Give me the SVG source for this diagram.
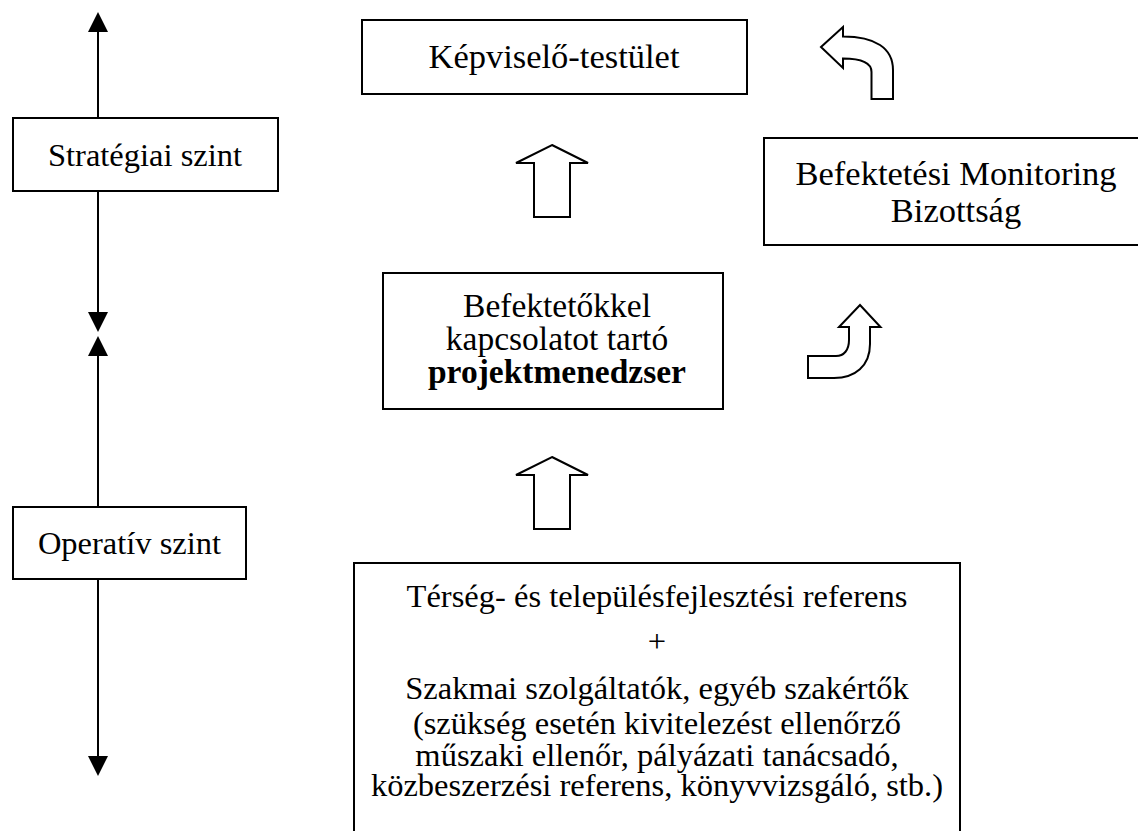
<svg xmlns="http://www.w3.org/2000/svg" width="1138" height="831" viewBox="0 0 1138 831">
<defs>
<marker id="ah" viewBox="0 0 20 20" refX="18" refY="10" markerWidth="20" markerHeight="20" markerUnits="userSpaceOnUse" orient="auto"><path d="M0,0 L20,10 L0,20 Z" fill="#000"/></marker>
<style>
.box{fill:#fff;stroke:#000;stroke-width:2}
.t{font-family:"Liberation Serif","Times New Roman",serif;fill:#000;text-anchor:middle}
.axis{stroke:#000;stroke-width:2;fill:none;marker-end:url(#ah)}
.blk{fill:#fff;stroke:#000;stroke-width:2;stroke-linejoin:miter}
</style>
</defs>
<rect width="1138" height="831" fill="#fff"/>
<g id="connectors">
<line class="axis" x1="98" y1="118" x2="98" y2="14"/>
<line class="axis" x1="98" y1="191" x2="98" y2="330"/>
<line class="axis" x1="98" y1="507" x2="98" y2="338"/>
<line class="axis" x1="98" y1="579" x2="98" y2="774"/>
<polygon class="blk" points="552,145 588,163 570,163 570,217 534,217 534,163 516,163"/>
<polygon class="blk" points="552,457 588,475 570,475 570,529 534,529 534,475 516,475"/>
<path class="blk" d="M821,47 L843,27 L843,36.5 C875,36.5 893,48 893,70 L893,99 L871.5,99 L871.5,72 C871.5,63 862,58.5 843,58.5 L843,68 Z"/>
<path class="blk" d="M860,305 L880.5,327 L870,327 L870,344 C870,366 855,378 834,378 L808,378 L808,356 L836,356 C844,356 849,350 849,340 L849,327 L839,327 Z"/>
</g>
<g id="strategiai">
<rect class="box" x="13" y="118" width="265" height="73"/>
<text class="t" x="145" y="166" font-size="32.5">Stratégiai szint</text>
</g>
<g id="operativ">
<rect class="box" x="13" y="507" width="233" height="72"/>
<text class="t" x="129.5" y="553.5" font-size="32.5">Operatív szint</text>
</g>
<g id="kepviselo">
<rect class="box" x="362" y="20" width="385" height="74"/>
<text class="t" x="554" y="68" font-size="34.5">Képviselő-testület</text>
</g>
<g id="monitoring">
<rect class="box" x="764" y="138" width="400" height="107"/>
<text class="t" x="956" y="185" font-size="34.5">Befektetési Monitoring</text>
<text class="t" x="956" y="222" font-size="34.5">Bizottság</text>
</g>
<g id="projektmenedzser">
<rect class="box" x="383" y="273" width="340" height="136"/>
<text class="t" x="557" y="317" font-size="33.5">Befektetőkkel</text>
<text class="t" x="557" y="350" font-size="33.5">kapcsolatot tartó</text>
<text class="t" x="557" y="383" font-size="33.5" font-weight="bold">projektmenedzser</text>
</g>
<g id="referens">
<rect class="box" x="354" y="563" width="606" height="300"/>
<text class="t" x="657" y="607" font-size="32.5">Térség- és településfejlesztési referens</text>
<text class="t" x="657" y="652" font-size="32.5">+</text>
<text class="t" x="657" y="699" font-size="32.5">Szakmai szolgáltatók, egyéb szakértők</text>
<text class="t" x="657" y="734" font-size="32.5">(szükség esetén kivitelezést ellenőrző</text>
<text class="t" x="657" y="766" font-size="32.5">műszaki ellenőr, pályázati tanácsadó,</text>
<text class="t" x="657" y="796" font-size="32.5">közbeszerzési referens, könyvvizsgáló, stb.)</text>
</g>
</svg>
